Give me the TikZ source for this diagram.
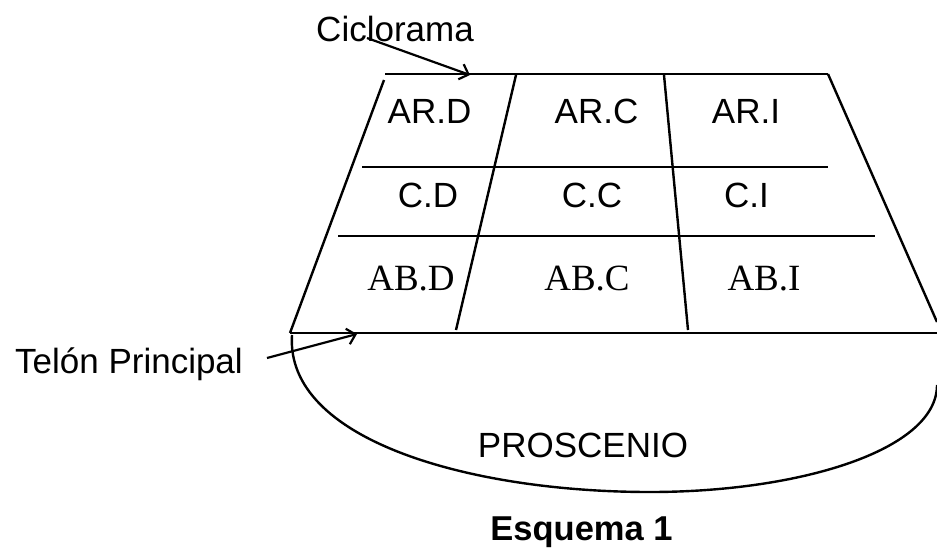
\documentclass[tikz,border=0pt]{standalone}
\usepackage{fontspec}
\usepackage{tikz}
\usetikzlibrary{arrows.meta}
\newfontfamily\arialfont{Liberation Sans}
\newfontfamily\timesfont{Liberation Serif}
\tikzstyle{zone} = [inner sep=0pt, anchor=base, font=\arialfont\fontsize{35}{40}\selectfont]
\tikzstyle{zoneserif} = [inner sep=0pt, anchor=base, font=\timesfont\fontsize{37}{42}\selectfont]
\tikzstyle{title} = [inner sep=0pt, anchor=base, font=\arialfont\bfseries\fontsize{34.5}{40}\selectfont]
\tikzstyle{edge} = [line width=2.4pt]
\tikzstyle{arrow} = [line width=2.2pt,-{Straight Barb[length=8pt,width=16pt]}]

\begin{document}
\begin{tikzpicture}[x=1pt,y=-1pt]
        \useasboundingbox (0,0) rectangle (937,547);
        % stage outline
        \draw [edge] (385,74) -- (828,74);
        \draw [edge] (384,80) -- (290,333);
        \draw [edge] (828,74) -- (937,322);
        \draw [edge] (290,333) -- (937,333);
        \draw [edge] (362,167) -- (828,167);
        \draw [edge] (338,236) -- (875,236);
        \draw [edge] (516,75) -- (456,330);
        \draw [edge] (664,75) -- (688,330);
        % proscenio
        \draw [edge] (292,335) .. controls (285,440) and (470,492) .. (650,492)
            .. controls (800,492) and (937,450) .. (937,385);
        % zones
        \node (ard) [zone] at (429.5,123) {AR.D};
        \node (arc) [zone] at (596.5,123) {AR.C};
        \node (ari) [zone] at (746,123) {AR.I};
        \node (cd) [zone] at (428,207) {C.D};
        \node (cc) [zone] at (592,207) {C.C};
        \node (ci) [zone] at (746.5,207) {C.I};
        \node (abd) [zoneserif] at (411,290) {AB.D};
        \node (abc) [zoneserif] at (587,290) {AB.C};
        \node (abi) [zoneserif] at (764,290) {AB.I};
        \node (pros) [zone] at (583,457) {PROSCENIO};
        \node (cicl) [zone] at (395,41) {Ciclorama};
        \node (telon) [zone] at (129,373) {Telón Principal};
        \node (esq) [title] at (581.5,540) {Esquema 1};
        % pointers
        \coordinate (ciclstart) at (367,38);
        \coordinate (ciclend) at (470,75);
        \coordinate (telonstart) at (267,358);
        \coordinate (telonend) at (357,334);
        \draw [arrow] (ciclstart) -- (ciclend);
        \draw [arrow] (telonstart) -- (telonend);
    \end{tikzpicture}
\end{document}
